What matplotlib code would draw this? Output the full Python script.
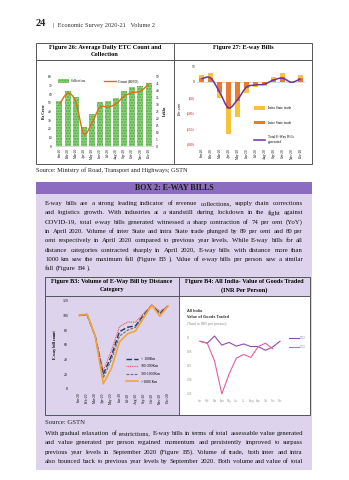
"""Economic Survey 2020-21, Vol. 2, p.24 -- ETC / e-way bill panels and Box 2.

Single page mock-up at 349x480 px: two chart cells on top (ETC collection,
e-way bill growth), the Box 2 text and the B3/B4 charts underneath.
"""
import numpy as np
import matplotlib
matplotlib.use("Agg")
import matplotlib.pyplot as plt
from matplotlib.patches import Rectangle, PathPatch, Patch
from matplotlib.lines import Line2D
from matplotlib.path import Path

W, H = 349, 480
SERIF = ["Liberation Serif", "DejaVu Serif"]
SANS = ["Liberation Sans", "DejaVu Sans"]

MONTHS = ["Jan-20", "Feb-20", "Mar-20", "Apr-20", "May-20", "Jun-20",
          "Jul-20", "Aug-20", "Sep-20", "Oct-20", "Nov-20", "Dec-20"]
MONTHS_SHORT = ["Jan", "Feb", "Mar", "Apr", "May", "Jun",
                "Jul", "Aug", "Sep", "Oct", "Nov", "Dec"]

# Fig 26: ETC collection (Rs crore, left) and RFID count (lakhs, right)
ETC_COLLECTION = [52, 63, 57, 22, 37, 51, 52, 55, 64, 68, 69, 73]
ETC_COUNT = [30, 38, 32, 9, 16.5, 28, 28, 30.5, 36, 38.5, 39.5, 44.5]

# Fig 27: YoY growth of e-way bills, per cent
EWB_INTER = [10, 13, -32, -89, -62, -20, -12, -10, 7, 14, -3, 10]
EWB_INTRA = [11, 15, -21, -80, -50, -17, -5, -5, 7, 14, -2, 11]
EWB_TOTAL = [9, 12, -33, -84, -58, -18, -11, -8, 5, 11, -2, 9]

# Fig B3: e-way bill count index by distance (Jan-20 = 100)
B3_LABELS = ["< 100Km", "100-300Km", "300-1000Km", ">1000 Km"]
B3_LT100 = [100, 101, 72, 20, 45, 78, 84, 86, 101, 114, 103, 113]
B3_100_300 = [100, 101, 72, 25, 52, 85, 91, 91, 103, 114, 106, 113]
B3_300_1000 = [100, 101, 72, 15, 40, 72, 80, 84, 100, 114, 102, 113]
B3_GT1000 = [100, 102, 72, 7, 28, 64, 75, 79, 97, 114, 99, 113]

# Fig B4: value of goods traded per person ('000 INR)
B4_2019 = [0.947, 0.92, 1.021, 0.893, 0.931, 0.877, 0.909, 0.872, 0.872,
           0.819, 0.867, 0.947]
B4_2020 = [0.947, 0.92, 0.669, 0.20, 0.483, 0.707, 0.76, 0.717, 0.872,
           0.92, 0.84]
B4_TICKS = [0.2, 0.4, 0.6, 0.8, 1.0]
B4_TICKLABELS = ["0.2K", "0.4K", "0.6K", "0.8K", "1K"]

BOX_TEXT = [
    "E-way bills are a strong leading indicator of revenue collections, supply chain corrections",
    "and logistics growth. With industries at a standstill during lockdown in the fight against",
    "COVID-19, total e-way bills generated witnessed a sharp contraction of 74 per cent (YoY)",
    "in April 2020. Volume of inter State and intra State trade plunged by 89 per cent and 80 per",
    "cent respectively in April 2020 compared to previous year levels. While E-way bills for all",
    "distance categories contracted sharply in April 2020, E-way bills with distance more than",
    "1000 km saw the maximum fall (Figure B3 ). Value of e-way bills per person saw a similar",
    "fall (Figure B4 ).",
]
AFTER_TEXT = [
    "With gradual relaxation of restrictions, E-way bills in terms of total assessable value generated",
    "and value generated per person regained momentum and persistently improved to surpass",
    "previous year levels in September 2020 (Figure B5). Volume of trade, both inter and intra",
    "also bounced back to previous year levels by September 2020. Both volume and value of total",
]

LAVENDER = "#ddd3ec"
BAND = "#8c6cbf"
RULE = "#555555"
TEXT_L, TEXT_R = 45, 303
LEAD = 9.3
# vertical frame of the lower B3/B4 table (px from top)
T_TOP, T_SEP, T_BOT = 277, 295.5, 415


def fx(x):
    return x / W


def fy(y):
    return 1 - y / H


def px_axes(fig, x0, y0, x1, y1):
    return fig.add_axes([x0 / W, 1 - y1 / H, (x1 - x0) / W, (y1 - y0) / H])


def rect(fig, x0, y0, x1, y1, **kw):
    fig.add_artist(Rectangle((fx(x0), fy(y1)), (x1 - x0) / W, (y1 - y0) / H,
                             transform=fig.transFigure, **kw))


def hline(fig, x0, x1, y, **kw):
    fig.add_artist(Line2D([fx(x0), fx(x1)], [fy(y), fy(y)],
                          transform=fig.transFigure, **kw))


def vline(fig, x, y0, y1, **kw):
    fig.add_artist(Line2D([fx(x), fx(x)], [fy(y0), fy(y1)],
                          transform=fig.transFigure, **kw))


def ptext(fig, x, y, s, **kw):
    kw.setdefault("family", SERIF)
    kw.setdefault("va", "center")
    return fig.text(fx(x), fy(y), s, **kw)


def text_width(fig, s, size):
    t = ptext(fig, 0, 0, s, size=size)
    w = t.get_window_extent(fig.canvas.get_renderer()).width
    t.remove()
    return w


def body_size(fig, lines):
    """Largest font size at which every full line still fits the measure."""
    widest = max(text_width(fig, l, 10) for l in lines)
    return 10 * (TEXT_R - TEXT_L) / widest * 0.99


def justify(fig, line, y, size, last=False):
    """Lay out one line of body text flush to both margins."""
    r = fig.canvas.get_renderer()
    words = line.split()
    arts = [ptext(fig, 0, y, w, size=size, color="#111111") for w in words]
    widths = [a.get_window_extent(r).width for a in arts]
    if last or len(words) < 2:
        gap = text_width(fig, "a a", size) - text_width(fig, "aa", size)
    else:
        gap = (TEXT_R - TEXT_L - sum(widths)) / (len(words) - 1)
    x = TEXT_L
    for a, w in zip(arts, widths):
        a.set_x(fx(x))
        x += w + gap


def smooth_path(xs, ys, k=1 / 6):
    """Cubic Bezier path through the points (Catmull-Rom style handles)."""
    pts = np.column_stack([xs, ys]).astype(float)
    verts, codes = [pts[0]], [Path.MOVETO]
    n = len(pts)
    for i in range(n - 1):
        p0, p1 = pts[max(i - 1, 0)], pts[i]
        p2, p3 = pts[i + 1], pts[min(i + 2, n - 1)]
        verts += [p1 + (p2 - p0) * k, p2 - (p3 - p1) * k, p2]
        codes += [Path.CURVE4] * 3
    return Path(verts, codes)


def bare(ax):
    for s in ax.spines.values():
        s.set_visible(False)
    ax.tick_params(length=0)


def fig26(fig):
    ax = px_axes(fig, 54.6, 76.7, 153.4, 146)
    x = np.arange(len(MONTHS))
    ax.bar(x, ETC_COLLECTION, width=0.74, color="#8fd47f",
           edgecolor="#4fa83f", hatch="......", lw=0)
    ax.set_xlim(-0.6, 11.6)
    ax.set_ylim(0, 80)
    ax.set_yticks(range(0, 81, 10))
    ax.set_xticks(x)
    ax.set_xticklabels(MONTHS, rotation=90, family=SERIF, size=2.5)
    bare(ax)
    ax.spines["bottom"].set_visible(True)
    ax.spines["bottom"].set_color("#bfbfbf")
    ax.spines["bottom"].set_linewidth(0.4)
    ax.tick_params(axis="y", labelsize=2.5, pad=2)
    ax.tick_params(axis="x", pad=1.5)
    for t in ax.get_yticklabels():
        t.set_family(SERIF)
    ax.set_ylabel("Rs Crore", family=SERIF, size=2.8, weight="bold", labelpad=2)

    ax2 = ax.twinx()
    ax2.set_ylim(0, 50)
    ax2.set_yticks(range(0, 51, 5))
    bare(ax2)
    ax2.tick_params(axis="y", labelsize=2.5, pad=2)
    for t in ax2.get_yticklabels():
        t.set_family(SERIF)
    ax2.add_patch(PathPatch(smooth_path(x, ETC_COUNT), fc="none",
                            ec="#e46c0a", lw=1.0))
    ax2.set_ylabel("Lakhs", family=SERIF, size=2.8, weight="bold", labelpad=2)

    handles = [Patch(fc="#8fd47f", ec="#4fa83f", hatch="......", lw=0),
               Line2D([], [], color="#e46c0a", lw=1.0)]
    ax.legend(handles, ["Collection", "Count (RFID)"], ncol=2, loc="center",
              bbox_to_anchor=(fx(98), fy(81)), bbox_transform=fig.transFigure,
              frameon=False, prop={"family": SERIF, "size": 2.6},
              handlelength=3.2, handleheight=1.2, columnspacing=5,
              handletextpad=0.5)


def fig27(fig):
    ax = px_axes(fig, 197, 66, 305, 144)
    x = np.arange(len(MONTHS))
    ax.bar(x, EWB_INTER, width=0.66, color="#ea7a30", lw=0)
    ax.bar(x, EWB_INTRA, bottom=EWB_INTER, width=0.66, color="#f6c33c", lw=0)
    ax.add_patch(PathPatch(smooth_path(x, EWB_TOTAL), fc="none",
                           ec="#7030a0", lw=1.1, zorder=3))
    ax.axhline(0, color="#bfbfbf", lw=0.4, zorder=0)
    ax.set_xlim(-0.5, 11.5)
    ax.set_ylim(-200, 50)
    ticks = [-200, -150, -100, -50, 0, 50]
    ax.set_yticks(ticks)
    ax.set_yticklabels([f"({-t})" if t < 0 else str(t) for t in ticks],
                       family=SERIF, size=2.6)
    for t, v in zip(ax.get_yticklabels(), ticks):
        t.set_color("#c00000" if v < 0 else "#222222")
    ax.set_xticks(x)
    ax.set_xticklabels(MONTHS, rotation=90, family=SERIF, size=2.5)
    bare(ax)
    ax.tick_params(axis="y", pad=1.5)
    ax.tick_params(axis="x", pad=3)
    ax.set_ylabel("Per cent", family=SERIF, size=2.9, style="italic")
    ax.yaxis.set_label_coords(-0.14, 0.45)

    handles = [Patch(fc="#f6c33c", lw=0), Patch(fc="#ea7a30", lw=0),
               Line2D([], [], color="#7030a0", lw=1.1)]
    ax.legend(handles, ["Intra State trade", "Inter State trade",
                        "Total E-Way Bills\ngenerated"],
              loc="upper left", bbox_to_anchor=(fx(251), fy(103)),
              bbox_transform=fig.transFigure, frameon=False,
              prop={"family": SERIF, "size": 2.6}, labelspacing=2.9,
              handlelength=3.0, handleheight=1.0, handletextpad=0.8)


def fig_b3(fig):
    ax = px_axes(fig, 75, T_SEP + 5.3, 172, T_SEP + 93.5)
    ax.patch.set_visible(False)
    x = np.arange(len(MONTHS))
    series = [B3_LT100, B3_100_300, B3_300_1000, B3_GT1000]
    styles = [dict(color="#1f3864", lw=1.0, ls=(0, (4, 1.6))),
              dict(color="#d9534f", lw=0.8, ls=(0, (0.8, 0.8))),
              dict(color="#6f6f6f", lw=0.8, ls=(0, (2.5, 1.2))),
              dict(color="#f2a43a", lw=1.2, ls="-")]
    for vals, st, lab in zip(series, styles, B3_LABELS):
        ax.plot(x, vals, label=lab, **st)
    ax.set_xlim(-0.5, 11.5)
    ax.set_ylim(0, 120)
    ax.set_yticks(range(0, 121, 20))
    ax.set_xticks(x)
    ax.set_xticklabels(MONTHS, rotation=90, family=SERIF, size=2.6)
    bare(ax)
    ax.tick_params(axis="y", labelsize=2.7, pad=5)
    ax.tick_params(axis="x", pad=2.5)
    for t in ax.get_yticklabels():
        t.set_family(SERIF)
    ax.set_ylabel("E-way bill count", family=SERIF, size=3.0, weight="bold")
    ax.yaxis.set_label_coords(-0.185, 0.5)
    ax.legend(loc="upper left", bbox_to_anchor=(fx(123), fy(T_SEP + 58)),
              bbox_transform=fig.transFigure, frameon=False,
              prop={"family": SERIF, "size": 2.7}, labelspacing=0.95,
              handlelength=3.2, handletextpad=0.6)


def fig_b4(fig):
    rect(fig, 179, T_SEP, 310, T_BOT, fc="white", ec="none", zorder=-0.5)
    ptext(fig, 187, T_SEP + 15.5, "All India", family=SANS, size=2.8,
          weight="bold", color="#333333")
    ptext(fig, 187, T_SEP + 22, "Value of Goods Traded", family=SANS,
          size=2.8, weight="bold", color="#333333")
    ptext(fig, 187, T_SEP + 28, "(Total in INR per person)", family=SANS,
          size=2.6, color="#888888")

    ax = px_axes(fig, 197.8, T_SEP + 38.5, 282.2, T_SEP + 102)
    ax.patch.set_visible(False)
    ax.plot(range(len(B4_2019)), B4_2019, color="#8a4fb0", lw=0.8, label="2019")
    ax.plot(range(len(B4_2020)), B4_2020, color="#e0609f", lw=0.8, label="2020")
    ax.set_xlim(-0.3, 11.3)
    ax.set_ylim(0.15, 1.05)
    ax.set_yticks(B4_TICKS)
    ax.set_yticklabels(B4_TICKLABELS, family=SANS, size=1.9, color="#999999",
                       ha="left")
    ax.set_xticks(range(12))
    ax.set_xticklabels(MONTHS_SHORT, family=SANS, size=1.8, color="#999999")
    bare(ax)
    ax.tick_params(axis="y", pad=7.8)
    ax.tick_params(axis="x", pad=1.2)
    ax.legend(loc="upper left", bbox_to_anchor=(fx(287), fy(T_SEP + 38.5)),
              bbox_transform=fig.transFigure, frameon=False,
              prop={"family": SANS, "size": 1.9}, labelspacing=1.8,
              handlelength=3.5, handletextpad=0.5, labelcolor="#999999")


def page(fig):
    ptext(fig, 36, 23.5, "24", size=7.5, weight="bold", color="#222222")
    ptext(fig, 53, 25, "|  Economic Survey 2020-21   Volume 2", size=4.6,
          color="#333333")

    # top table: figure 26 | figure 27
    rect(fig, 36, 43, 312, 164, fc="none", ec=RULE, lw=0.7, zorder=3)
    hline(fig, 36, 312, 59.5, color=RULE, lw=0.7, zorder=3)
    vline(fig, 174, 43, 164, color=RULE, lw=0.7, zorder=3)
    ptext(fig, 105, 47.8, "Figure 26: Average Daily ETC Count and",
          size=4.6, weight="bold", ha="center")
    ptext(fig, 105, 54.5, "Collection", size=4.6, weight="bold", ha="center")
    ptext(fig, 243, 48, "Figure 27: E-way Bills", size=4.6, weight="bold",
          ha="center")
    ptext(fig, 36, 170.5, "Source: Ministry of Road, Transport and Highways; GSTN",
          size=4.6, color="#222222")

    size = body_size(fig, BOX_TEXT[:-1] + AFTER_TEXT)

    # box 2
    rect(fig, 36, 182, 312, 194, fc=BAND, ec="none", zorder=-1)
    rect(fig, 36, 194, 312, 470, fc=LAVENDER, ec="none", zorder=-1)
    ptext(fig, 174, 188.3, "BOX 2: E-WAY BILLS", size=5.8, weight="bold",
          ha="center", color="#1a1a1a")
    for i, line in enumerate(BOX_TEXT):
        justify(fig, line, 203.5 + i * LEAD, size,
                last=(i == len(BOX_TEXT) - 1))

    # lower table: B3 | B4
    rect(fig, 45, T_TOP, 310, T_BOT, fc="none", ec=RULE, lw=0.7, zorder=3)
    hline(fig, 45, 310, T_SEP, color=RULE, lw=0.7, zorder=3)
    vline(fig, 179, T_TOP, T_BOT, color=RULE, lw=0.7, zorder=3)
    ptext(fig, 112, T_TOP + 4.8, "Figure B3: Volume of E-Way Bill by Distance",
          size=4.5, weight="bold", ha="center")
    ptext(fig, 112, T_TOP + 12.8, "Category", size=4.5, weight="bold",
          ha="center")
    ptext(fig, 244.5, T_TOP + 4.8, "Figure B4: All India- Value of Goods Traded",
          size=4.5, weight="bold", ha="center")
    ptext(fig, 244.5, T_TOP + 12.8, "(INR Per Person)", size=4.5,
          weight="bold", ha="center")
    ptext(fig, 45, T_BOT + 7.5, "Source: GSTN", size=size, color="#222222")
    for i, line in enumerate(AFTER_TEXT):
        justify(fig, line, T_BOT + 18.5 + i * LEAD, size)


def main():
    fig = plt.figure(figsize=(W / 100, H / 100), dpi=100)
    fig.patch.set_facecolor("white")
    page(fig)
    fig26(fig)
    fig27(fig)
    fig_b3(fig)
    fig_b4(fig)
    fig.savefig("out.png", dpi=100)
    plt.close(fig)


if __name__ == "__main__":
    main()
